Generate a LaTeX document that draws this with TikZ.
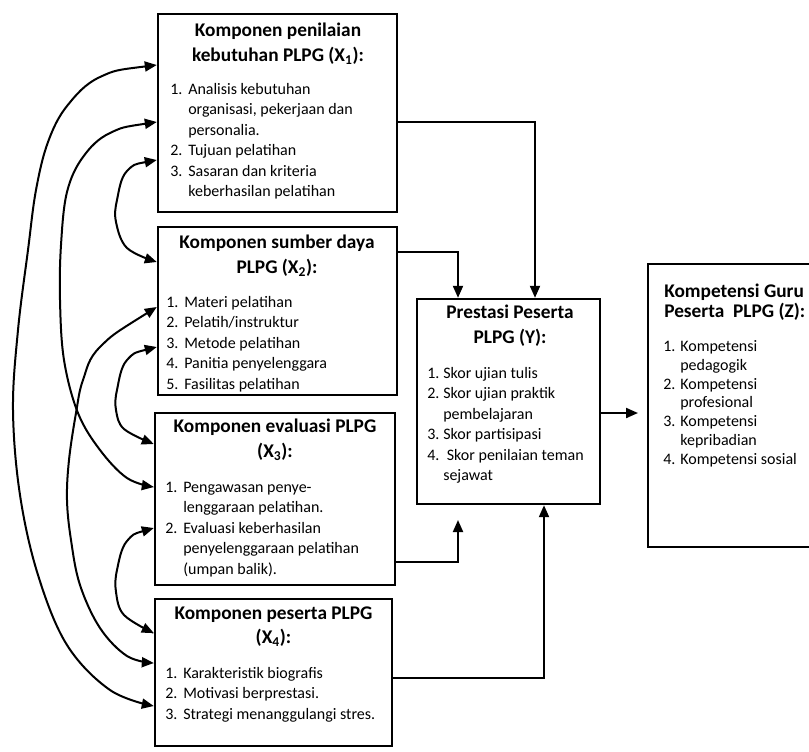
\documentclass[tikz,border=0pt]{standalone}
\usepackage{fontspec}
\setmainfont{Carlito}
\usetikzlibrary{arrows.meta,fit,calc}
\newlength\lind
\newcommand\myitem[2]{\makebox[\lind][l]{#1}#2}
\newcommand\mycont[1]{\hspace*{\lind}#1}
\begin{document}
\begin{tikzpicture}[x=0.75pt,y=-0.75pt,
  box/.style={draw, line width=1.8pt, inner sep=0pt},
  ttl/.style={font=\fontsize{14.5}{18.5}\selectfont\bfseries, align=center, inner sep=0pt},
  lst/.style={font=\fontsize{12}{15.3}\selectfont\setlength\lind{13.5pt}, align=left, anchor=north west, inner sep=0pt},
  arr/.style={line width=1.5pt, -{Triangle[length=9pt,width=7.5pt]}},
  darr/.style={line width=1.5pt, {Triangle[length=9pt,width=7.5pt]}-{Triangle[length=9pt,width=7.5pt]}},
  crv/.style={darr, smooth, tension=0.6}]
\useasboundingbox (0,0) rectangle (809,751);

% boxes
\node[box, fit={(158,14) (397,212)}] (x1) {};
\node[box, fit={(158,227) (397,395)}] (x2) {};
\node[box, fit={(155,413) (395,585)}] (x3) {};
\node[box, fit={(155,599) (392,746)}] (x4) {};
\node[box, fit={(417,299) (600,504)}] (y) {};
\node[box, fit={(648,264) (830,547)}] (z) {};

% titles
\node[ttl] (t1) at (278,43.5) {Komponen penilaian\\kebutuhan PLPG (X\textsubscript{1}):};
\node[ttl] (t2) at (277,256) {Komponen sumber daya\\PLPG (X\textsubscript{2}):};
\node[ttl] (t3) at (275,440) {Komponen evaluasi PLPG\\(X\textsubscript{3}):};
\node[ttl] (t4) at (273.5,626.5) {Komponen peserta PLPG\\(X\textsubscript{4}):};
\node[ttl] (ty) at (510,326) {Prestasi Peserta\\PLPG (Y):};
\node[ttl, align=left, anchor=north west, font=\fontsize{14.5}{14.5}\selectfont\bfseries] (tz) at (664,284) {Kompetensi Guru\\Peserta\ \ PLPG (Z):};

% lists
\node[lst] (l1) at (170,80) {\strut\myitem{1.}{Analisis kebutuhan}\\
\mycont{organisasi, pekerjaan dan}\\
\mycont{personalia.}\\
\myitem{2.}{Tujuan pelatihan}\\
\myitem{3.}{Sasaran dan kriteria}\\
\mycont{keberhasilan pelatihan}};
\node[lst] (l2) at (166,293) {\strut\myitem{1.}{Materi pelatihan}\\
\myitem{2.}{Pelatih/instruktur}\\
\myitem{3.}{Metode pelatihan}\\
\myitem{4.}{Panitia penyelenggara}\\
\myitem{5.}{Fasilitas pelatihan}};
\node[lst] (l3) at (165,478) {\strut\myitem{1.}{Pengawasan penye-}\\
\mycont{lenggaraan pelatihan.}\\
\myitem{2.}{Evaluasi keberhasilan}\\
\mycont{penyelenggaraan pelatihan}\\
\mycont{(umpan balik).}};
\node[lst] (l4) at (165,664) {\strut\myitem{1.}{Karakteristik biografis}\\
\myitem{2.}{Motivasi berprestasi.}\\
\myitem{3.}{Strategi menanggulangi stres.}};
\node[lst, font=\fontsize{12}{15.3}\selectfont\setlength\lind{12pt}] (ly) at (427,364) {\strut\myitem{1.}{Skor ujian tulis}\\
\myitem{2.}{Skor ujian praktik}\\
\mycont{pembelajaran}\\
\myitem{3.}{Skor partisipasi}\\
\myitem{4.}{\ Skor penilaian teman}\\
\mycont{sejawat}};
\node[lst, font=\fontsize{12}{14.1}\selectfont\setlength\lind{12.75pt}] (lz) at (663,338) {\strut\myitem{1.}{Kompetensi}\\
\mycont{pedagogik}\\
\myitem{2.}{Kompetensi}\\
\mycont{profesional}\\
\myitem{3.}{Kompetensi}\\
\mycont{kepribadian}\\
\myitem{4.}{Kompetensi sosial}};

% connectors to Y
\coordinate (gap) at (458,520);
\draw[arr] (x1.east |- 0,122) -| (y.north -| 535,0);
\draw[arr] (x2.east |- 0,252) -| (y.north -| 458,0);
\draw[arr] (x3.east |- 0,562) -| (gap);
\draw[arr] (x4.east |- 0,678) -| (y.south -| 544,0);
\coordinate (zin) at (638,413);
\draw[arr] (y.east |- 0,413) -- (zin);

% curved double arrows
\draw[crv] plot coordinates {(x1.west |- 0,65) (100,77) (67,106) (48,142) (36,190) (28,250) (18,330) (13,410) (20,495) (38,575) (67,645) (110,690) (x4.west |- 0,706)};
\draw[crv] plot coordinates {(x1.west |- 0,122) (110,133) (83,157) (67,192) (61,245) (60,300) (64,360) (78,413) (100,450) (127,478) (x3.west |- 0,487)};
\draw[crv] plot coordinates {(x2.west |- 0,307) (100,347) (83,380) (76,413) (69,460) (67,500) (71,540) (80,585) (100,628) (127,656) (x4.west |- 0,663)};
\draw[crv] plot coordinates {(x1.west |- 0,160) (127,171) (117,200) (116,222) (127,248) (x2.west |- 0,262)};
\draw[crv] plot coordinates {(x2.west |- 0,347) (127,360) (117,390) (116,410) (124,429) (x3.west |- 0,444)};
\draw[crv] plot coordinates {(x3.west |- 0,528) (127,541) (117,570) (116,592) (124,615) (x4.west |- 0,633)};
\end{tikzpicture}
\end{document}
